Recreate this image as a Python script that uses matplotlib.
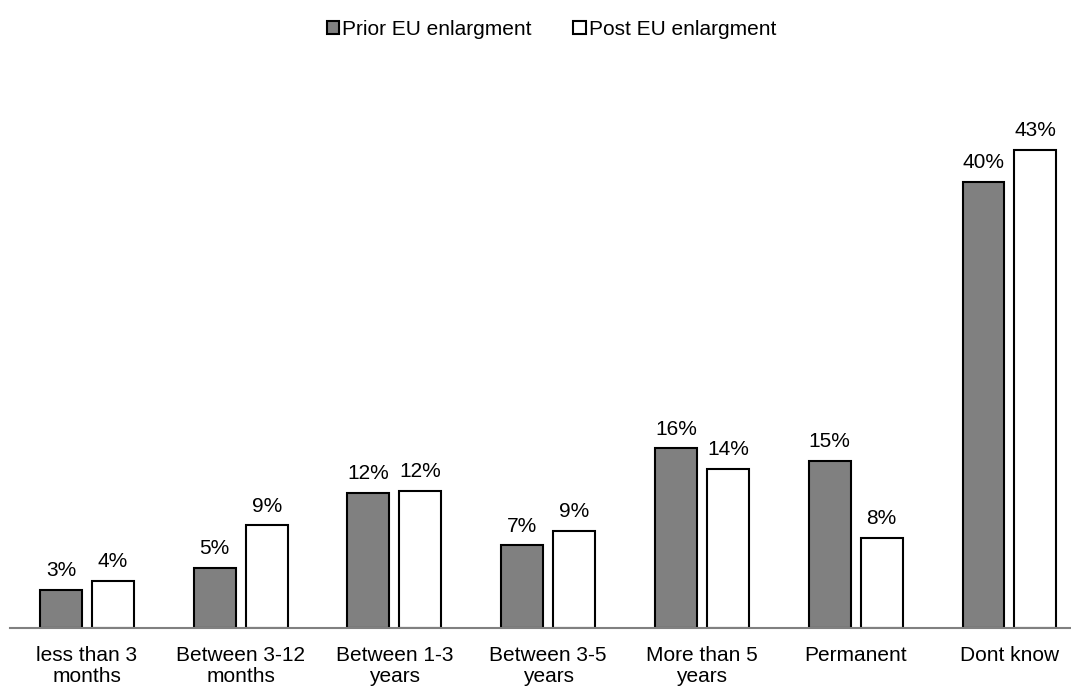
import matplotlib.pyplot as plt
import numpy as np

plt.rcParams['font.family'] = ['Liberation Sans', 'DejaVu Sans']

categories = ['less than 3\nmonths', 'Between 3-12\nmonths', 'Between 1-3\nyears',
              'Between 3-5\nyears', 'More than 5\nyears', 'Permanent', 'Dont know']
prior = [3.4, 5.4, 12.1, 7.4, 16.1, 15.0, 40.0]
post = [4.2, 9.2, 12.3, 8.7, 14.3, 8.1, 42.9]
prior_labels = ['3%', '5%', '12%', '7%', '16%', '15%', '40%']
post_labels = ['4%', '9%', '12%', '9%', '14%', '8%', '43%']

fig = plt.figure(figsize=(10.71, 6.87), dpi=100)
ax = fig.add_axes([10 / 1071, 59 / 687, 1061 / 1071, 528 / 687])

x = np.arange(len(categories))
w = 0.273
off = 0.169
b1 = ax.bar(x - off, prior, w, color='#808080', edgecolor='black', linewidth=1.5,
            label='Prior EU enlargment')
b2 = ax.bar(x + off, post, w, color='white', edgecolor='black', linewidth=1.5,
            label='Post EU enlargment')

ax.bar_label(b1, labels=prior_labels, padding=7, fontsize=15)
ax.bar_label(b2, labels=post_labels, padding=7, fontsize=15)

ax.set_xlim(-0.5, 6.4)
ax.set_ylim(0, 47.35)
ax.set_xticks(x)
ax.set_xticklabels(categories, fontsize=15, linespacing=1.15)
ax.tick_params(axis='x', length=0, pad=13)
ax.set_yticks([])
for s in ['top', 'right', 'left']:
    ax.spines[s].set_visible(False)
ax.spines['bottom'].set_color('#808080')
ax.spines['bottom'].set_linewidth(1.5)

fig.legend(loc='upper center', bbox_to_anchor=(0.515, 0.998), ncol=2, frameon=False,
           fontsize=15, handlelength=0.6, handleheight=0.6, handletextpad=0.15,
           columnspacing=2.0)

fig.savefig('out.png', dpi=100)
